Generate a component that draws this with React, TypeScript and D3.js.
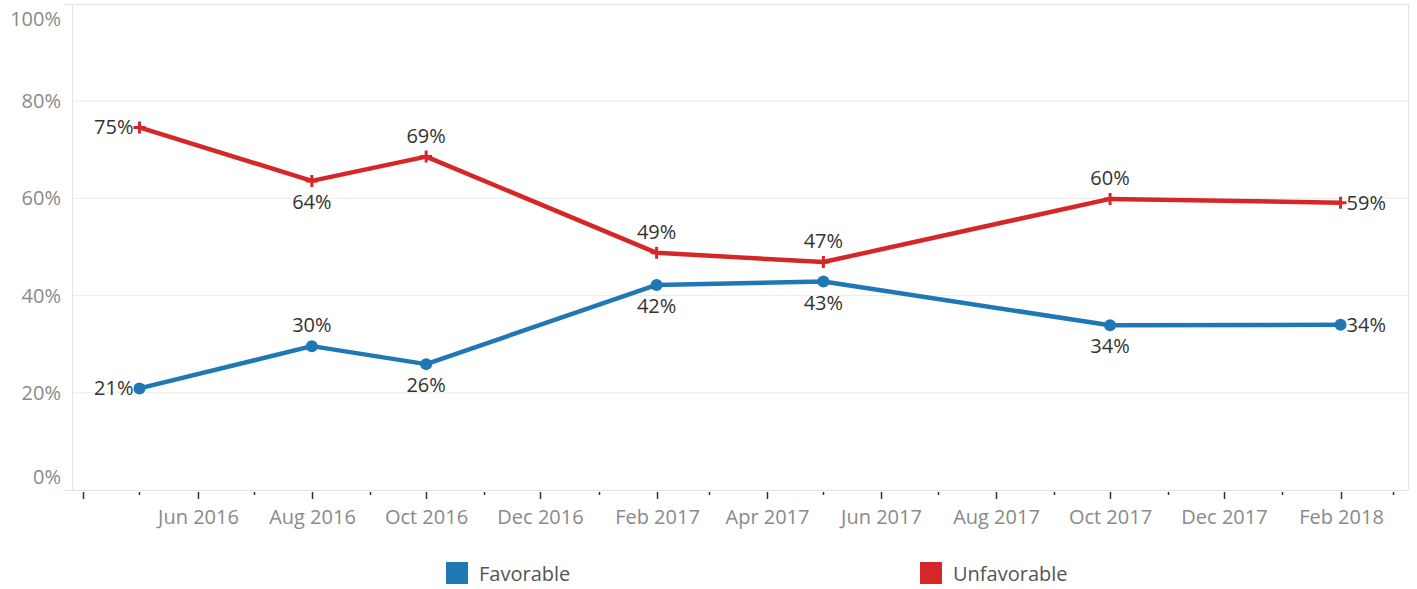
import React from "react";
import * as d3 from "d3";

const dates = ["2016-05-01", "2016-08-01", "2016-10-01", "2017-02-01", "2017-05-01", "2017-10-01", "2018-02-01"];
const favorable = [20.9, 29.6, 25.9, 42.2, 42.9, 33.9, 34.0];
const unfavorable = [74.6, 63.6, 68.6, 48.8, 46.9, 59.9, 59.1];
// label placement: "l" left, "r" right, "a" above, "b" below
const favPos = ["l", "a", "b", "b", "b", "b", "r"];
const unfPos = ["l", "b", "a", "a", "a", "a", "r"];
const yTicks = [0, 20, 40, 60, 80, 100];
const seriesNames = ["Favorable", "Unfavorable"];
const colors = ["#1f77b4", "#d62728"];

const W = 1417, H = 589;
const L = 72, R = 1408, T = 4, B = 490;
const FONT = "'Open Sans', 'Noto Sans', sans-serif";

export default function App() {
  const parse = d3.timeParse("%Y-%m-%d");
  const xs = dates.map((d) => parse(d) as Date);
  const x = d3.scaleTime().domain([new Date(2016, 2, 26), new Date(2018, 2, 9)]).range([L, R]);
  const y = d3.scaleLinear().domain([0, 100]).range([B, T]);
  const months = d3.timeMonth.range(new Date(2016, 3, 1), new Date(2018, 2, 9));
  const fmt = d3.timeFormat("%b %Y");
  const line = d3.line<[Date, number]>().x((d) => x(d[0])).y((d) => y(d[1]));

  const series = [
    { vals: favorable, pos: favPos, color: colors[0], marker: "circle" },
    { vals: unfavorable, pos: unfPos, color: colors[1], marker: "plus" },
  ];

  const labelProps = (p: string, px: number, py: number) => {
    if (p === "l") return { x: px - 6, y: py, anchor: "end", dy: "0.35em" };
    if (p === "r") return { x: px + 6, y: py, anchor: "start", dy: "0.35em" };
    if (p === "a") return { x: px, y: py - 21, anchor: "middle", dy: "0.35em" };
    return { x: px, y: py + 21, anchor: "middle", dy: "0.35em" };
  };

  return (
    <svg width={W} height={H} style={{ position: "absolute", left: 0, top: 0, background: "#fff" }} fontFamily={FONT}>
      {/* gridlines */}
      {yTicks.filter((t) => t > 0 && t < 100).map((t) => (
        <line key={t} x1={L} x2={R} y1={y(t)} y2={y(t)} stroke="#ebebeb" strokeWidth={1} />
      ))}
      {/* frame */}
      <line x1={64} x2={R} y1={T + 0.5} y2={T + 0.5} stroke="#e3e3e3" />
      <line x1={L + 0.5} x2={L + 0.5} y1={T} y2={B} stroke="#e3e3e3" />
      <line x1={R + 0.5} x2={R + 0.5} y1={T} y2={B} stroke="#e3e3e3" />
      <line x1={64} x2={R} y1={B + 0.5} y2={B + 0.5} stroke="#e3e3e3" />
      {/* y labels */}
      {yTicks.map((t) => {
        const yy = Math.min(Math.max(y(t), 19), 477);
        return (
          <text key={t} x={61} y={yy} dy="0.35em" textAnchor="end" fill="#8a8a8a" fontSize={20}>
            {t}%
          </text>
        );
      })}
      {/* x ticks */}
      {months.map((m, i) => {
        const major = m.getMonth() % 2 === 1;
        const xx = Math.round(x(m)) + 0.5;
        return (
          <g key={i}>
            <line x1={xx} x2={xx} y1={B + 2} y2={B + (major ? 9 : 5)} stroke="#333" strokeWidth={1.5} />
            {major && i > 0 && (
              <text x={xx} y={517} dy="0.35em" textAnchor="middle" fill="#8a8a8a" fontSize={20}>
                {fmt(m)}
              </text>
            )}
          </g>
        );
      })}
      {/* lines */}
      {series.map((s, si) => (
        <g key={si}>
          <path
            d={line(xs.map((d, i) => [d, s.vals[i]] as [Date, number])) || ""}
            fill="none"
            stroke={s.color}
            strokeWidth={4.5}
            strokeLinejoin="round"
          />
          {xs.map((d, i) => {
            const px = x(d), py = y(s.vals[i]);
            return s.marker === "circle" ? (
              <circle key={i} cx={px} cy={py} r={6} fill={s.color} />
            ) : (
              <path key={i} d={`M${px - 6},${py}H${px + 6}M${px},${py - 6}V${py + 6}`} stroke={s.color} strokeWidth={3} />
            );
          })}
          {xs.map((d, i) => {
            const lp = labelProps(s.pos[i], x(d), y(s.vals[i]));
            return (
              <text key={"t" + i} x={lp.x} y={lp.y} dy={lp.dy} textAnchor={lp.anchor as any} fill="#333" fontSize={20}>
                {Math.round(s.vals[i])}%
              </text>
            );
          })}
        </g>
      ))}
      {/* legend */}
      {seriesNames.map((n, i) => {
        const lx = i === 0 ? 446 : 920;
        return (
          <g key={n}>
            <rect x={lx} y={562} width={22} height={22} fill={colors[i]} />
            <text x={lx + 33} y={574} dy="0.35em" fill="#555" fontSize={20}>
              {n}
            </text>
          </g>
        );
      })}
    </svg>
  );
}
